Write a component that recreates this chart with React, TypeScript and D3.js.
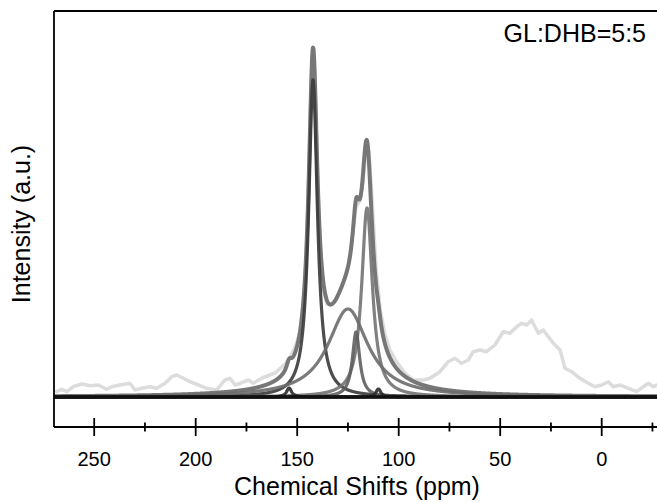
import React from "react";
import * as d3 from "d3";

const expPpm = [268.5, 266.0, 263.5, 260.3, 256.2, 252.0, 248.0, 243.9, 241.4, 237.3, 232.4, 229.9, 226.6, 222.5, 219.2, 215.1, 211.8, 209.4, 206.1, 202.8, 198.7, 194.6, 189.7, 185.6, 183.1, 180.6, 178.2, 174.1, 171.6, 167.3, 163.5, 160.9, 156.0, 153.5, 151.0, 148.6, 147.0, 146.0, 145.0, 144.2, 143.4, 142.8, 142.2, 141.6, 141.0, 140.2, 139.4, 138.4, 137.0, 135.5, 133.8, 130.9, 127.9, 125.0, 123.0, 121.0, 119.0, 117.5, 116.1, 114.6, 113.1, 111.1, 109.1, 106.7, 104.3, 101.0, 96.9, 92.8, 87.9, 84.6, 79.7, 75.6, 72.3, 69.0, 65.7, 63.3, 60.0, 56.7, 52.6, 48.5, 45.2, 41.9, 39.4, 36.9, 34.5, 32.9, 31.2, 28.8, 26.3, 23.8, 20.5, 18.1, 14.8, 10.7, 6.6, 3.3, 0, -3.3, -5.7, -9.1, -13.1, -17.2, -20.5, -23.0, -25.4, -27.2, -29.5];
const expInt = [5.3, 7.7, 5.3, 10.3, 13, 11.3, 12, 7.7, 10.3, 12, 13.7, 7, 8.7, 10.3, 8.7, 13.7, 20.3, 22, 18.7, 15.3, 12, 8.7, 7, 17, 18.7, 12, 13.7, 17, 13.7, 19, 22, 24, 33, 40, 50, 65, 94, 125, 174, 227, 290, 331, 348, 334, 295, 235, 185, 142, 108, 93, 92, 97, 112, 130, 158, 190, 197, 215, 250, 245, 197, 127, 87, 62, 47, 35, 24, 17, 17, 18.7, 25.3, 35.3, 38.7, 33.7, 37, 45.3, 47, 45.3, 52, 65.3, 63.7, 70.3, 73.7, 72, 77, 70.3, 63.7, 67, 60.3, 53.7, 47, 28.7, 25.3, 18.7, 13.7, 10.3, 12, 15.3, 10.3, 12, 8.7, 5.3, 10.3, 13.7, 10.3, 12, 11];

// Fitted Lorentzian components: centre (ppm), height (a.u.), half width (ppm)
const peakCenters = [142.2, 115.6, 125, 121, 154, 110];
const peakHeights = [317, 189, 88, 65, 9, 8];
const peakWidths = [2.6, 3.2, 12, 2.2, 1.5, 1.5];
const peakColors = ["#3a3a3a", "#727272", "#6c6c6c", "#5e5e5e", "#2a2a2a", "#2a2a2a"];

const xTickMajor = [250, 200, 150, 100, 50, 0];
const xTickMinor = [225, 175, 125, 75, 25, -25];

const W = 657, H = 502;
const FONT = "'Liberation Sans', Arial, Helvetica, sans-serif";

export default function App() {
  const x = d3.scaleLinear().domain([270, -30]).range([53.6, 662.6]);
  const y = d3.scaleLinear().domain([-30, 386]).range([427, 11]);
  const grid = d3.range(270, -30.001, -0.1);
  const lor = (i: number, p: number) =>
    peakHeights[i] / (1 + Math.pow((p - peakCenters[i]) / peakWidths[i], 2));
  const line = d3
    .line<[number, number]>()
    .x((d) => x(d[0]))
    .y((d) => y(d[1]));
  const expLine = d3
    .line<number>()
    .x((_, i) => x(expPpm[i]))
    .y((d) => y(d));
  const comps = peakCenters.map((_, i) =>
    line(grid.map((p) => [p, lor(i, p)] as [number, number]))
  );
  const total = line(
    grid.map((p) => [p, peakCenters.reduce((s, _, i) => s + lor(i, p), 0)] as [number, number])
  );
  const base = line([[270, 0], [-30, 0]]);
  const axisY = 427;
  return (
    <svg
      width={W}
      height={H}
      style={{ position: "absolute", left: 0, top: 0, background: "#fff" }}
      fontFamily={FONT}
    >
      <defs>
        <clipPath id="plot">
          <rect x={54} y={11} width={W - 54} height={416} />
        </clipPath>
      </defs>
      <g clipPath="url(#plot)" fill="none" strokeLinejoin="round" strokeLinecap="round">
        <path d={expLine(expInt) || ""} stroke="#dcdcdc" strokeWidth={3.5} />
        <path d={total || ""} stroke="#777" strokeWidth={4} />
        {comps.map((d, i) => (
          <path key={i} d={d || ""} stroke={peakColors[i]} strokeWidth={3.2} strokeOpacity={0.9} />
        ))}
        <path d={base || ""} stroke="#111" strokeWidth={3.5} />
      </g>
      <line x1={54} x2={54} y1={11} y2={axisY} stroke="#000" strokeWidth={1.8} />
      <line x1={54} x2={W} y1={11} y2={11} stroke="#000" strokeWidth={1.8} />
      <line x1={54} x2={W} y1={axisY} y2={axisY} stroke="#000" strokeWidth={1.8} />
      {xTickMajor.map((t) => (
        <g key={t}>
          <line x1={x(t)} x2={x(t)} y1={axisY - 9} y2={axisY + 9} stroke="#000" strokeWidth={1.8} />
          <text x={x(t)} y={466} fontSize={20} textAnchor="middle" fill="#000">
            {t}
          </text>
        </g>
      ))}
      {xTickMinor.map((t) => (
        <line key={t} x1={x(t)} x2={x(t)} y1={axisY - 4.5} y2={axisY + 4.5} stroke="#000" strokeWidth={1.8} />
      ))}
      <text x={357} y={495} fontSize={25} textAnchor="middle" fill="#000">
        Chemical Shifts (ppm)
      </text>
      <text transform="translate(30,224) rotate(-90)" fontSize={25} textAnchor="middle" fill="#000">
        Intensity (a.u.)
      </text>
      <text x={646} y={42} fontSize={25} textAnchor="end" fill="#000">
        GL:DHB=5:5
      </text>
    </svg>
  );
}
